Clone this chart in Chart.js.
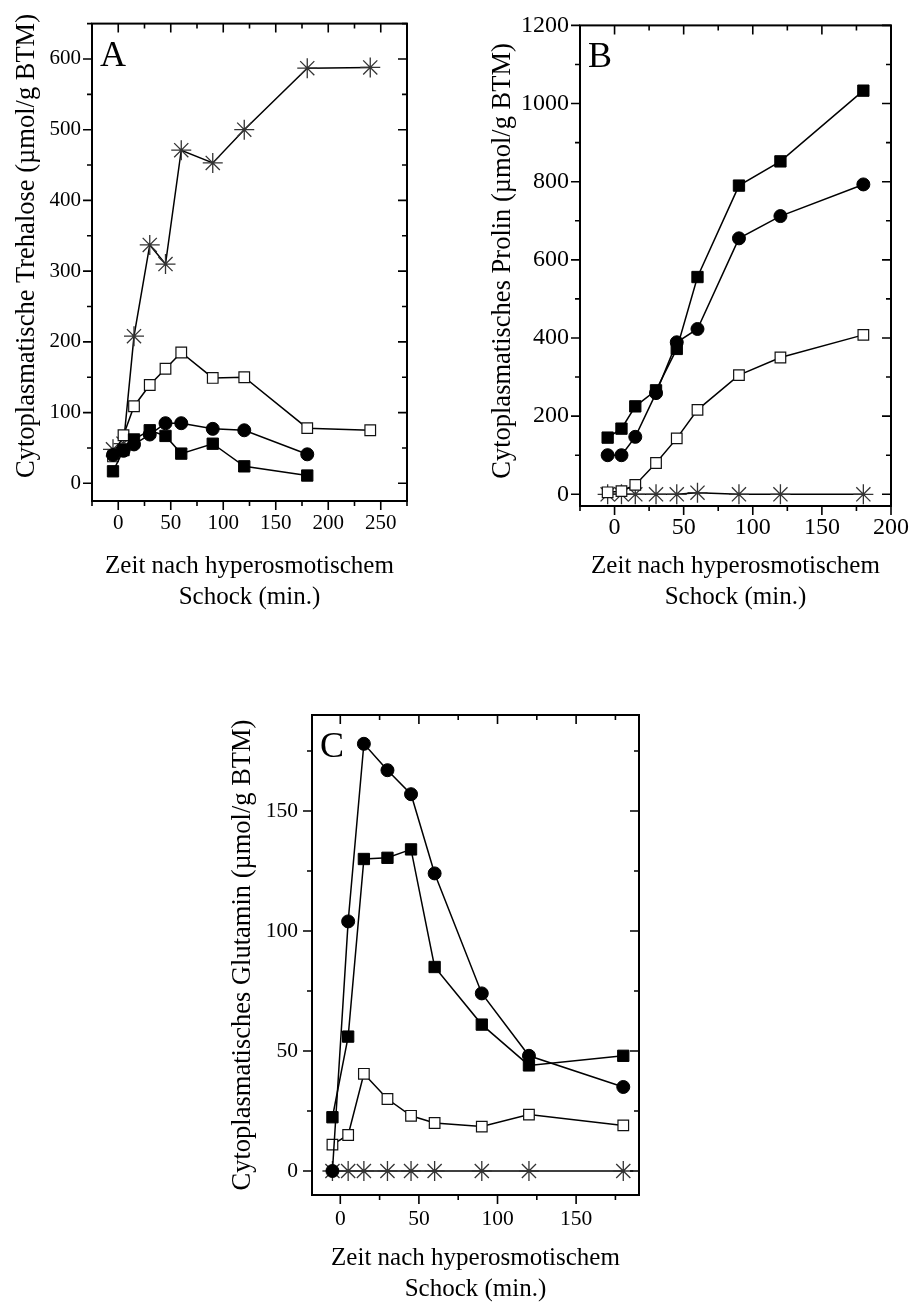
<!DOCTYPE html>
<html><head><meta charset="utf-8">
<script src="https://cdn.jsdelivr.net/npm/chart.js@4.4.0/dist/chart.umd.min.js"></script>
<style>
html,body{margin:0;padding:0;background:#fff;width:916px;height:1302px;overflow:hidden}
canvas{position:absolute}
</style></head><body>
<canvas id="cA" width="460" height="620" style="left:0;top:0"></canvas>
<canvas id="cB" width="456" height="620" style="left:460px;top:0"></canvas>
<canvas id="cC" width="460" height="680" style="left:200px;top:640px"></canvas>
<script>
// ---------- data ----------
const timesA = [-5, 5, 15, 30, 45, 60, 90, 120, 180];
const timesA_long = [-5, 5, 15, 30, 45, 60, 90, 120, 180, 240];
const A_filledSquare = [17, 47, 62, 75, 67, 42, 56, 24, 11];
const A_filledCircle = [40, 46, 55, 69, 85, 85, 77, 75, 41];
const A_openSquare = [38, 68, 109, 139, 162, 185, 149, 150, 78, 75];
const A_star = [48, 56, 208, 337, 310, 471, 453, 500, 587, 588];

const timesB = [-5, 5, 15, 30, 45, 60, 90, 120, 180];
const B_filledSquare = [145, 168, 225, 266, 372, 556, 790, 852, 1033];
const B_filledCircle = [100, 100, 147, 259, 389, 423, 655, 712, 793];
const B_openSquare = [5, 8, 24, 80, 143, 216, 305, 350, 408];
const B_star = [0, 0, 0, 0, 0, 4, 0, 0, 0];

const timesC = [-5, 5, 15, 30, 45, 60, 90, 120, 180];
const C_filledCircle = [0, 104, 178, 167, 157, 124, 74, 48, 35];
const C_filledSquare = [22.4, 56, 130, 130.5, 134, 85, 61, 44, 48];
const C_openSquare = [11, 15, 40.5, 30, 23, 20, 18.5, 23.5, 19];
const C_star = [0, 0, 0, 0, 0, 0, 0, 0, 0];

// tick values
const A_xTicks = [0, 50, 100, 150, 200, 250];
const A_xMinor = [-25, 25, 75, 125, 175, 225, 275];
const A_yTicks = [0, 100, 200, 300, 400, 500, 600];
const A_yMinor = [50, 150, 250, 350, 450, 550, 650];
const B_xTicks = [0, 50, 100, 150, 200];
const B_xMinor = [-25, 25, 75, 125, 175];
const B_yTicks = [0, 200, 400, 600, 800, 1000, 1200];
const B_yMinor = [100, 300, 500, 700, 900, 1100];
const C_xTicks = [0, 50, 100, 150];
const C_xMinor = [25, 75, 125, 175];
const C_yTicks = [0, 50, 100, 150];
const C_yMinor = [25, 75, 125, 175];

const xTitle = ['Zeit nach hyperosmotischem', 'Schock (min.)'];
const yTitleA = 'Cytoplasmatische Trehalose (µmol/g BTM)';
const yTitleB = 'Cytoplasmatisches Prolin (µmol/g BTM)';
const yTitleC = 'Cytoplasmatisches Glutamin (µmol/g BTM)';

// ---------- helpers ----------
const FAM = "'Liberation Serif','Times New Roman',serif";
const pts = (xs, ys) => xs.map((x, i) => ({x: x, y: ys[i]}));

function ds(xs, ys, kind) {
  const base = {data: pts(xs, ys), showLine: true, borderColor: '#000', borderWidth: 1.5, clip: false};
  if (kind === 'fsq') return Object.assign(base, {pointStyle: 'rect', pointRadius: 8, pointBackgroundColor: '#000', pointBorderColor: '#000', pointBorderWidth: 1});
  if (kind === 'fci') return Object.assign(base, {pointStyle: 'circle', pointRadius: 6.5, pointBackgroundColor: '#000', pointBorderColor: '#000', pointBorderWidth: 1});
  if (kind === 'osq') return Object.assign(base, {pointStyle: 'rect', pointRadius: 7.5, pointBackgroundColor: '#fff', pointBorderColor: '#111', pointBorderWidth: 1.2});
  return Object.assign(base, {pointStyle: 'star', pointRadius: 10, pointBackgroundColor: '#444', pointBorderColor: '#333', pointBorderWidth: 1.3});
}

const framePlugin = {
  id: 'frame',
  afterDraw(chart, args, o) {
    const {ctx, chartArea: {left, top, right, bottom}, scales: {x, y}} = chart;
    ctx.save();
    ctx.strokeStyle = '#000';
    ctx.lineWidth = 1.6;
    const M = 9, m = 5;
    ctx.beginPath();
    o.xMajor.forEach(v => { const p = x.getPixelForValue(v); ctx.moveTo(p, bottom); ctx.lineTo(p, bottom + M); ctx.moveTo(p, top); ctx.lineTo(p, top + M); });
    o.xMinor.forEach(v => { const p = x.getPixelForValue(v); ctx.moveTo(p, bottom); ctx.lineTo(p, bottom + m); ctx.moveTo(p, top); ctx.lineTo(p, top + m); });
    o.yMajor.forEach(v => { const p = y.getPixelForValue(v); ctx.moveTo(left - M, p); ctx.lineTo(left, p); ctx.moveTo(right, p); ctx.lineTo(right - M, p); });
    o.yMinor.forEach(v => { const p = y.getPixelForValue(v); ctx.moveTo(left - m, p); ctx.lineTo(left, p); ctx.moveTo(right, p); ctx.lineTo(right - m, p); });
    ctx.stroke();
    ctx.lineWidth = 2;
    ctx.strokeRect(left, top, right - left, bottom - top);
    ctx.fillStyle = '#000';
    ctx.font = '36px ' + FAM;
    ctx.textBaseline = 'alphabetic';
    ctx.fillText(o.letter, left + 8, top + 42);
    // rotated y-axis title
    ctx.font = o.ytSize + 'px ' + FAM;
    ctx.textAlign = 'center';
    ctx.textBaseline = 'middle';
    ctx.translate(o.ytX, o.ytY);
    ctx.rotate(-Math.PI / 2);
    ctx.fillText(o.ytitle, 0, 0);
    ctx.restore();
  }
};

function makeChart(id, datasets, cfg) {
  const tickFont = {family: FAM, size: cfg.tfs};
  return new Chart(document.getElementById(id), {
    type: 'scatter',
    data: {datasets: datasets},
    plugins: [framePlugin],
    options: {
      responsive: false, animation: false, events: [],
      layout: {padding: cfg.pad},
      plugins: {legend: {display: false}, tooltip: {enabled: false},
        frame: {xMajor: cfg.xT, xMinor: cfg.xm, yMajor: cfg.yT, yMinor: cfg.ym, letter: cfg.letter,
          ytitle: cfg.ytitle, ytX: cfg.ytX, ytY: cfg.ytY, ytSize: 26.5}},
      scales: {
        x: {type: 'linear', min: cfg.xmin, max: cfg.xmax,
          grid: {display: false, drawTicks: false}, border: {display: false},
          afterBuildTicks: s => { s.ticks = cfg.xT.map(v => ({value: v})); },
          afterFit: s => { s.height = cfg.xh; },
          ticks: {font: tickFont, color: '#000', padding: cfg.xtp, maxRotation: 0, autoSkip: false, callback: v => String(v)},
          title: {display: true, text: xTitle, color: '#000',
            font: {family: FAM, size: 25, lineHeight: 1.24}, padding: {top: 0, bottom: cfg.xtb}}},
        y: {type: 'linear', min: cfg.ymin, max: cfg.ymax,
          grid: {display: false, drawTicks: false}, border: {display: false},
          afterBuildTicks: s => { s.ticks = cfg.yT.map(v => ({value: v})); },
          afterFit: s => { s.width = cfg.yw; },
          ticks: {font: tickFont, color: '#000', padding: cfg.ytp, autoSkip: false, callback: v => String(v)},
          title: {display: false}}
      }
    }
  });
}

makeChart('cA', [
  ds(timesA, A_filledSquare, 'fsq'),
  ds(timesA, A_filledCircle, 'fci'),
  ds(timesA_long, A_openSquare, 'osq'),
  ds(timesA_long, A_star, 'star')
], {pad: {top: 18, right: 53, left: 0, bottom: 0}, xmin: -25, xmax: 275, ymin: -25, ymax: 650,
  xT: A_xTicks, xm: A_xMinor, yT: A_yTicks, ym: A_yMinor, xh: 119, yw: 92, xtb: 7.5, xtp: 10, ytp: 11, tfs: 21,
  letter: 'A', ytitle: yTitleA, ytX: 27, ytY: 246});

makeChart('cB', [
  ds(timesB, B_filledSquare, 'fsq'),
  ds(timesB, B_filledCircle, 'fci'),
  ds(timesB, B_openSquare, 'osq'),
  ds(timesB, B_star, 'star')
], {pad: {top: 23, right: 21, left: 0, bottom: 0}, xmin: -25, xmax: 200, ymin: -30, ymax: 1200,
  xT: B_xTicks, xm: B_xMinor, yT: B_yTicks, ym: B_yMinor, xh: 114, yw: 120, xtb: 7.5, xtp: 7, ytp: 11, tfs: 24,
  letter: 'B', ytitle: yTitleB, ytX: 43, ytY: 261});

makeChart('cC', [
  ds(timesC, C_filledCircle, 'fci'),
  ds(timesC, C_filledSquare, 'fsq'),
  ds(timesC, C_openSquare, 'osq'),
  ds(timesC, C_star, 'star')
], {pad: {top: 75, right: 21, left: 0, bottom: 0}, xmin: -18, xmax: 190, ymin: -10, ymax: 190,
  xT: C_xTicks, xm: C_xMinor, yT: C_yTicks, ym: C_yMinor, xh: 125, yw: 112, xtb: 15, xtp: 11, ytp: 14, tfs: 21.5,
  letter: 'C', ytitle: yTitleC, ytX: 43, ytY: 955 - 640});
</script>
</body></html>
